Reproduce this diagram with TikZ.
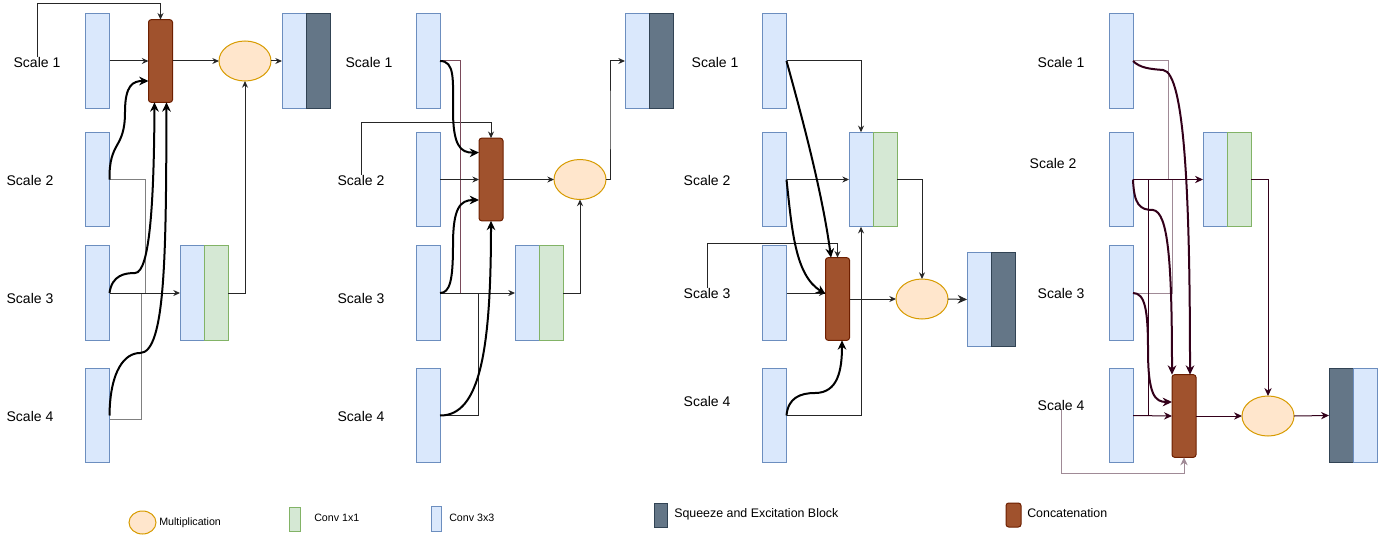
\documentclass[tikz,border=0pt]{standalone}
\usepackage{fontspec}
\setmainfont{Liberation Sans}
\usetikzlibrary{arrows.meta,calc,shapes.geometric}
\definecolor{bfill}{HTML}{DAE8FC}\definecolor{bdraw}{HTML}{6C8EBF}
\definecolor{gfill}{HTML}{D5E8D4}\definecolor{gdraw}{HTML}{82B366}
\definecolor{dfill}{HTML}{647687}\definecolor{ddraw}{HTML}{314354}
\definecolor{cfill}{HTML}{A0522D}\definecolor{cdraw}{HTML}{6D1F00}
\definecolor{ofill}{HTML}{FFE6CC}\definecolor{odraw}{HTML}{D79B00}
\definecolor{purp}{HTML}{33001A}\definecolor{lpurp}{HTML}{A08A96}
\definecolor{maroon}{HTML}{7A4A5A}
\tikzset{
 blk/.style={line width=0.75pt, minimum width=18pt, minimum height=70.9pt, inner sep=0pt, outer sep=0pt},
 sbox/.style={blk, draw=bdraw, fill=bfill},
 gbox/.style={blk, draw=gdraw, fill=gfill},
 dbox/.style={blk, draw=ddraw, fill=dfill},
 cat/.style={line width=0.75pt, draw=cdraw, fill=cfill, rounded corners=2pt, minimum width=18pt, minimum height=62pt, inner sep=0pt, outer sep=0pt},
 mul/.style={ellipse, line width=0.75pt, draw=odraw, fill=ofill, minimum width=39pt, minimum height=30pt, inner sep=0pt, outer sep=0pt},
 lbl/.style={font=\fontsize{10.5pt}{12pt}\selectfont, inner sep=0pt},
 leg/.style={font=\fontsize{8pt}{10pt}\selectfont, inner sep=0pt, anchor=west},
 legb/.style={font=\fontsize{9.3pt}{11pt}\selectfont, inner sep=0pt, anchor=west},
 ln/.style={line width=0.75pt, draw=black!85},
 lng/.style={line width=0.75pt, draw=black!50},
 arr/.style={ln, -{Stealth[length=5pt,width=4.5pt]}},
 tk/.style={line width=1.5pt, draw=black},
 tkarr/.style={tk, -{Stealth[length=7pt,width=6.5pt]}},
 pln/.style={line width=0.75pt, draw=purp},
 parr/.style={pln, -{Stealth[length=6pt,width=5.5pt]}},
 lpln/.style={line width=0.75pt, draw=lpurp},
 lparr/.style={lpln, -{Stealth[length=6pt,width=5.5pt]}},
 ptk/.style={line width=1.5pt, draw=purp, -{Stealth[length=7pt,width=6.5pt]}},
}
\begin{document}
\begin{tikzpicture}[x=0.75pt,y=-0.75pt]
\useasboundingbox (0,0) rectangle (1398,535);

% ---------------- Panel 1 ----------------
\node[lbl] (a-l1) at (37,62) {Scale 1};
\node[lbl] (a-l2) at (30,180) {Scale 2};
\node[lbl] (a-l3) at (30,298) {Scale 3};
\node[lbl] (a-l4) at (30,416) {Scale 4};
\node[sbox] (a-s1) at (97.5,61) {};
\node[sbox] (a-s2) at (97.5,179.5) {};
\node[sbox] (a-s3) at (97.5,293) {};
\node[sbox] (a-s4) at (97.5,415.5) {};
\node[cat] (a-c) at (160.5,61) {};
\node[mul] (a-m) at (245,61) {};
\node[sbox] (a-o1) at (294,61) {};
\node[dbox] (a-o2) at (318,61) {};
\node[sbox] (a-v1) at (192,293) {};
\node[gbox] (a-v2) at (216,293) {};
\coordinate (a-top) at (0,4);
\coordinate (a-j2) at (145,293);
\coordinate (a-j4) at (141,293);

\draw[arr] (a-l1.north) -- (a-l1.north |- a-top) -| (a-c.north);
\draw[arr] (a-s1.east) -- (a-c.west);
\draw[arr] (a-c.east) -- (a-m.west);
\draw[arr] (a-m.east) -- (a-o1.west);
\draw[lng] (a-s2.east) -| (a-j2);
\draw[lng] ($(a-s4.east)+(0,4)$) -| (a-j4);
\draw[arr] (a-s3.east) -- (a-v1.west);
\draw[arr] (a-v2.east) -| (a-m.south);
\draw[tkarr] (a-s2.east) .. controls (109,140) and (125,150) .. (125,112) .. controls (125,85) and (133,81) .. ($(a-c.west)+(0,20)$);
\draw[tkarr] (a-s3.east) .. controls (112,275) and (125,273) .. (135,273) .. controls (150,273) and (154,200) .. ($(a-c.south)+(-6,0)$);
\draw[tkarr] (a-s4.east) .. controls (110,370) and (125,353) .. (140,353) .. controls (166,353) and (166,250) .. ($(a-c.south)+(6,0)$);

% ---------------- Panel 2 ----------------
\node[lbl] (b-l1) at (369,62) {Scale 1};
\node[lbl] (b-l2) at (361,180) {Scale 2};
\node[lbl] (b-l3) at (361,298) {Scale 3};
\node[lbl] (b-l4) at (361,416) {Scale 4};
\node[sbox] (b-s1) at (428,61) {};
\node[sbox] (b-s2) at (428,179.5) {};
\node[sbox] (b-s3) at (428,293) {};
\node[sbox] (b-s4) at (428,415.5) {};
\node[cat] (b-c) at (491,179.5) {};
\node[mul] (b-m) at (580,179.5) {};
\node[sbox] (b-o1) at (637,61) {};
\node[dbox] (b-o2) at (661,61) {};
\node[sbox] (b-v1) at (527,293) {};
\node[gbox] (b-v2) at (551,293) {};
\coordinate (b-top) at (0,122);
\coordinate (b-j1) at (460,293);
\coordinate (b-j4) at (478,293);
\coordinate (b-k) at (610,120);

\draw[arr] (b-l2.north) -- (b-l2.north |- b-top) -| (b-c.north);
\draw[line width=0.75pt, draw=maroon] (b-s1.east) -| (b-j1);
\draw[arr] (b-s2.east) -- (b-c.west);
\draw[arr] (b-c.east) -- (b-m.west);
\draw[arr] (b-m.east) -| (b-k) |- (b-o1.west);
\draw[arr] (b-s3.east) -- (b-v1.west);
\draw[ln] (b-s4.east) -| (b-j4);
\draw[arr] (b-v2.east) -| (b-m.south);
\draw[tkarr] (b-s1.east) .. controls (455,61) and (453,80) .. (453,110) .. controls (453,145) and (460,153) .. ($(b-c.west)+(0,-27)$);
\draw[tkarr] (b-s3.east) .. controls (450,293) and (453,280) .. (453,245) .. controls (453,208) and (460,200) .. ($(b-c.west)+(0,20.5)$);
\draw[tkarr] (b-s4.east) .. controls (480,416) and (491,350) .. (b-c.south);

% ---------------- Panel 3 ----------------
\node[lbl] (c-l1) at (715,62) {Scale 1};
\node[lbl] (c-l2) at (707,180) {Scale 2};
\node[lbl] (c-l3) at (707,293) {Scale 3};
\node[lbl] (c-l4) at (707,401) {Scale 4};
\node[sbox] (c-s1) at (774.5,61) {};
\node[sbox] (c-s2) at (774.5,179.5) {};
\node[sbox] (c-s3) at (774.5,293) {};
\node[sbox] (c-s4) at (774.5,415.5) {};
\node[sbox] (c-v1) at (861,179.5) {};
\node[gbox] (c-v2) at (885,179.5) {};
\node[cat] (c-c) at (837.5,299) {};
\node[mul] (c-m) at (922,299) {};
\node[sbox] (c-o1) at (979,299.5) {};
\node[dbox] (c-o2) at (1003,299.5) {};
\coordinate (c-top) at (0,243);

\draw[arr] (c-s1.east) -| (c-v1.north);
\draw[arr] (c-s2.east) -- (c-v1.west);
\draw[arr] (c-l3.north) -- (c-l3.north |- c-top) -| (c-c.north);
\draw[arr] (c-s3.east) -- ($(c-c.west)+(0,-6)$);
\draw[arr] (c-c.east) -- (c-m.west);
\draw[arr] (c-v2.east) -| (c-m.north);
\draw[ln, -{Stealth[length=7pt,width=6.5pt]}] (c-m.east) -- (c-o1.west);
\draw[arr] (c-s4.east) -| (c-v1.south);
\draw[tkarr] (c-s1.east) .. controls (800,110) and (822,190) .. ($(c-c.north)+(-6.5,0)$);
\draw[tkarr] (c-s2.east) .. controls (792,230) and (795,275) .. ($(c-c.west)+(0,-5)$);
\draw[tkarr] (c-s4.east) .. controls (788,398) and (800,393) .. (815,393) .. controls (838,393) and (842,370) .. ($(c-c.south)+(4.5,0)$);

% ---------------- Panel 4 ----------------
\node[lbl] (d-l1) at (1061,62) {Scale 1};
\node[lbl] (d-l2) at (1053,163) {Scale 2};
\node[lbl] (d-l3) at (1061,293) {Scale 3};
\node[lbl] (d-l4) at (1061,405) {Scale 4};
\node[sbox] (d-s1) at (1121,61) {};
\node[sbox] (d-s2) at (1121,179.5) {};
\node[sbox] (d-s3) at (1121,293) {};
\node[sbox] (d-s4) at (1121,415.5) {};
\node[sbox] (d-v1) at (1215,179.5) {};
\node[gbox] (d-v2) at (1239,179.5) {};
\node[cat] (d-c) at (1184,416) {};
\node[mul] (d-m) at (1268,416) {};
\node[dbox] (d-o1) at (1341,415.5) {};
\node[sbox] (d-o2) at (1365,415.5) {};
\coordinate (d-j1) at (1168,179.5);
\coordinate (d-j2) at (1148,415.5);
\coordinate (d-j3) at (1172,179.5);
\coordinate (d-bot) at (0,473);

\draw[lpln] (d-s1.east) -| (d-j1);
\draw[lpln] (d-s3.east) -| (d-j3);
\draw[pln] (d-s2.east) -| (d-j2);
\draw[parr] (d-s2.east) -- (d-v1.west);
\draw[parr] (d-s4.east) -- (d-c.west);
\draw[lparr] (d-l4.south) -- (d-l4.south |- d-bot) -| (d-c.south);
\draw[parr] (d-c.east) -- (d-m.west);
\draw[parr] (d-v2.east) -| (d-m.north);
\draw[parr] (d-m.east) -- (d-o1.west);
\draw[ptk] (d-s1.east) .. controls (1140,68) and (1150,69) .. (1163,70) .. controls (1185,72) and (1190,200) .. ($(d-c.north)+(6,0)$);
\draw[ptk] (d-s2.east) .. controls (1134,205) and (1140,210) .. (1153,210) .. controls (1168,212) and (1172,260) .. ($(d-c.north)+(-12,0)$);
\draw[ptk] (d-s3.east) .. controls (1145,293) and (1148,310) .. (1148,350) .. controls (1148,395) and (1155,402) .. ($(d-c.west)+(0,-14)$);

% ---------------- Legend ----------------
\node[mul, minimum width=20.25pt, minimum height=17.25pt] (lg-m) at (142.5,522.5) {};
\node[leg] (lg-mt) at (159,523) {Multiplication};
\node[gbox, minimum width=8.25pt, minimum height=18pt] (lg-g) at (294.5,519) {};
\node[leg] (lg-gt) at (314,518) {Conv 1x1};
\node[sbox, minimum width=7.5pt, minimum height=18.75pt] (lg-b) at (436,518.5) {};
\node[leg] (lg-bt) at (449,518) {Conv 3x3};
\node[dbox, minimum width=9.75pt, minimum height=18pt] (lg-d) at (660.5,515) {};
\node[legb] (lg-dt) at (674,514) {Squeeze and Excitation Block};
\node[cat, minimum width=11.25pt, minimum height=18pt] (lg-c) at (1013.5,515) {};
\node[legb] (lg-ct) at (1027,513) {Concatenation};
\end{tikzpicture}
\end{document}
